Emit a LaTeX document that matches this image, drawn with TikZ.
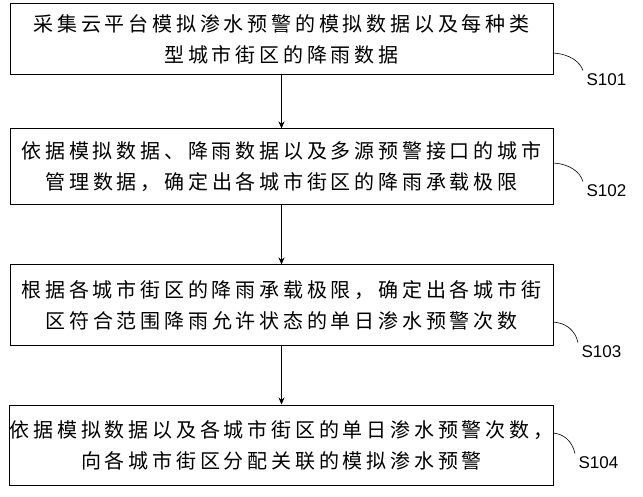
\documentclass[tikz,border=0pt]{standalone}
\usepackage{fontspec}
\setmainfont{Liberation Sans}
\newfontfamily\cjk[LetterSpace=19]{Noto Sans CJK SC}
\usetikzlibrary{arrows.meta}
\tikzset{
 stepbox/.style={draw,line width=1pt,minimum width=543pt,align=center,font=\cjk\fontsize{20}{31}\selectfont,inner sep=0pt},
 lbl/.style={font=\fontsize{17}{20}\selectfont,anchor=west},
 lead/.style={line width=0.6pt},
 arr/.style={-{Stealth[length=7pt,width=6pt]},line width=1pt}
}
\begin{document}
\begin{tikzpicture}[x=1pt,y=-1pt]
\useasboundingbox (0,0) rectangle (643,497);
\node[stepbox,minimum height=71pt] (b1) at (281.5,39.5) {采集云平台模拟渗水预警的模拟数据以及每种类\\型城市街区的降雨数据};
\node[stepbox,minimum height=76pt] (b2) at (281.5,167) {依据模拟数据、降雨数据以及多源预警接口的城市\\管理数据，确定出各城市街区的降雨承载极限};
\node[stepbox,minimum height=80pt] (b3) at (281.5,305) {根据各城市街区的降雨承载极限，确定出各城市街\\区符合范围降雨允许状态的单日渗水预警次数};
\node[stepbox,minimum height=80pt] (b4) at (281.5,445) {依据模拟数据以及各城市街区的单日渗水预警次数，\\向各城市街区分配关联的模拟渗水预警};
\draw[arr] (b1.south) -- (b2.north);
\draw[arr] (b2.south) -- (b3.north);
\draw[arr] (b3.south) -- (b4.north);
\node[lbl] (l1) at (583,80) {S101};
\node[lbl] (l2) at (583,191) {S102};
\node[lbl] (l3) at (578,352) {S103};
\node[lbl] (l4) at (575,463) {S104};
\draw[lead] (553,53) .. controls (570,54) and (580,62) .. (l1.north west);
\draw[lead] (553,163) .. controls (570,164) and (580,172) .. (l2.north west);
\draw[lead] (553,322) .. controls (566,323) and (575,330) .. (l3.north west);
\draw[lead] (553,433) .. controls (564,434) and (572,441) .. (l4.north west);
\end{tikzpicture}
\end{document}
